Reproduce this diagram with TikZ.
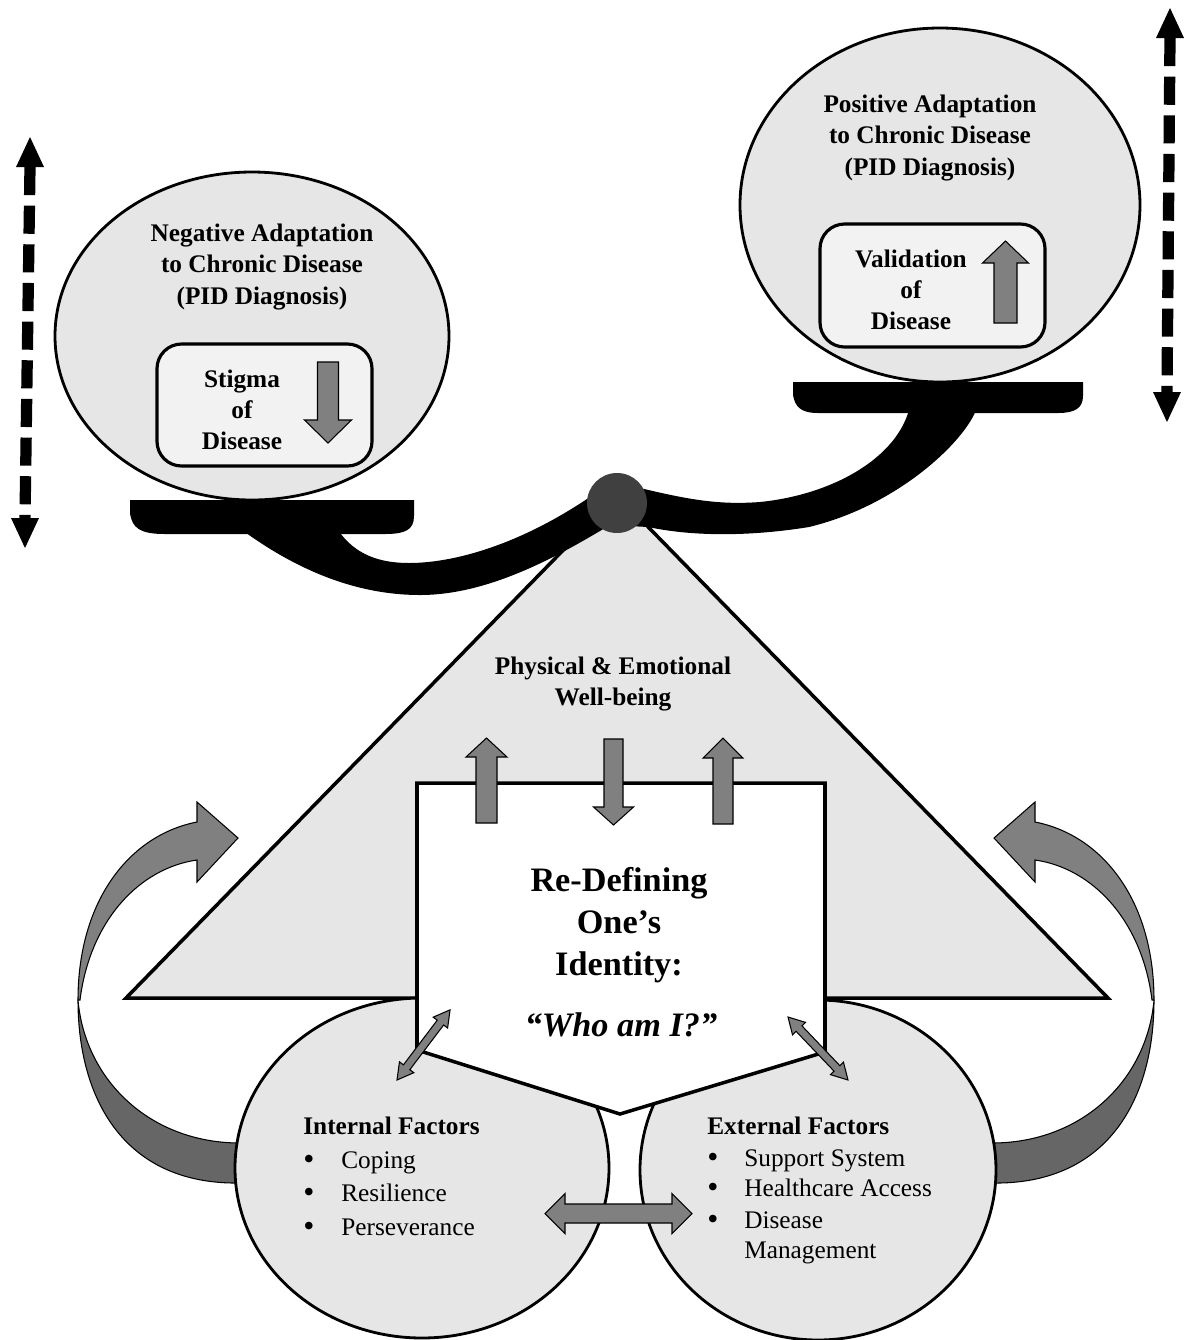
\documentclass[tikz,border=0pt]{standalone}
\usepackage{fontspec}
\setmainfont{Liberation Serif}
\definecolor{lgray}{HTML}{E6E6E6}
\definecolor{boxgray}{HTML}{F2F2F2}
\definecolor{agray}{HTML}{808080}
\definecolor{dgray}{HTML}{666666}
\definecolor{pivotc}{HTML}{404040}
\tikzset{
  blk/.style={fill=agray, draw=black, line width=0.6pt, line join=miter},
  bubble/.style={fill=lgray, draw=black, line width=1.6pt},
  rbox/.style={fill=boxgray, draw=black, line width=1.8pt, rounded corners=14},
  title/.style={font=\bfseries\fontsize{14.4}{17.8}\selectfont, align=center, inner sep=0pt},
  bigtitle/.style={font=\bfseries\fontsize{19.5}{24}\selectfont, align=center, inner sep=0pt},
  listtxt/.style={font=\fontsize{14.4}{17.6}\selectfont, anchor=base west, inner sep=0pt},
  bul/.style={font=\fontsize{18}{18}\selectfont, anchor=base west, inner sep=0pt, text height=8pt, text depth=0pt},
  dashline/.style={line width=6.4pt, dash pattern=on 16pt off 6pt},
  twistlow/.style={fill=dgray, draw=black, line width=0.6pt},
  twistup/.style={fill=agray, draw=black, line width=0.6pt, line join=miter}
}
% block arrow: tail x, tail y, angle, length, shaft half width, head half width, head length
\newcommand\myarrow[7]{\begin{scope}[shift={(#1,#2)},rotate=#3]
  \draw[blk] (0,-#5) -- ({#4-#7},-#5) -- ({#4-#7},-#6) -- (#4,0) -- ({#4-#7},#6) -- ({#4-#7},#5) -- (0,#5) -- cycle;
\end{scope}}
% double block arrow
\newcommand\mydarrow[7]{\begin{scope}[shift={(#1,#2)},rotate=#3]
  \draw[blk] (0,0) -- (#7,-#6) -- (#7,-#5) -- ({#4-#7},-#5) -- ({#4-#7},-#6) -- (#4,0) -- ({#4-#7},#6) -- ({#4-#7},#5) -- (#7,#5) -- (#7,#6) -- cycle;
\end{scope}}
% curved twisted side arrow (left version)
\newcommand\sidearrow{%
  \draw[twistlow] (262,1183) -- (240,1183) .. controls (125,1185) and (78,1100) .. (78,1000)
     .. controls (85,1080) and (150,1143) .. (240,1143) -- (262,1143) -- cycle;
  \draw[twistup] (78,1000) .. controls (78,900) and (130,835) .. (197,822) -- (197,802) -- (238,838)
     -- (197,882) -- (197,860) .. controls (140,868) and (90,920) .. (80,1000) -- cycle;
}
\begin{document}
\begin{tikzpicture}[x=0.02cm, y=-0.02cm]
\path[use as bounding box, fill=white] (0,0) rectangle (1187,1340);

% dashed vertical arrows
\coordinate (lt) at (30,137); \coordinate (lb) at (25,548);
\draw[dashline] (30,167) -- (25,518);
\fill (lt) -- (44,167) -- (16,167) -- cycle;
\fill (lb) -- (11,518) -- (39,518) -- cycle;
\coordinate (rt) at (1170,8); \coordinate (rb) at (1167,422);
\draw[dashline] (1170,38) -- (1167,392);
\fill (rt) -- (1184,38) -- (1156,38) -- cycle;
\fill (rb) -- (1153,392) -- (1181,392) -- cycle;

% top bubbles
\draw[bubble] (252,336) ellipse [x radius=197, y radius=164];
\draw[bubble] (940,205) ellipse [x radius=200, y radius=177];
\draw[rbox] (157,344) rectangle (372,466);
\draw[rbox] (820,224) rectangle (1045,347);
\myarrow{328}{362}{-90}{81}{10.5}{23.5}{23}
\myarrow{1005.5}{323}{90}{82}{11.5}{23}{22}

\node[title] (negt) at (262,267) {Negative Adaptation\\to Chronic Disease\\(PID Diagnosis)};
\node[title] (stigt) at (242,410) {Stigma\\of\\Disease};
\node[title] (post) at (930,138) {Positive Adaptation\\to Chronic Disease\\(PID Diagnosis)};
\node[title] (valt) at (911,290) {Validation\\of\\Disease};

% platforms
\fill (130,500) -- (414,500) -- (414,516) .. controls (414,530) and (405,534) .. (385,534)
  -- (165,534) .. controls (140,534) and (132,528) .. (130,513) -- cycle;
\fill (793,382) -- (1083,382) -- (1083,396) .. controls (1083,408) and (1075,413) .. (1058,413)
  -- (818,413) .. controls (800,413) and (795,406) .. (793,395) -- cycle;

% curved side arrows
\sidearrow
\begin{scope}[shift={(1232,0)},xscale=-1]
\sidearrow
\end{scope}

% triangle
\draw[fill=lgray, line width=2pt, line join=miter] (617,495) -- (1108,998) -- (126,998) -- cycle;

% beam
\fill (242,530) -- (338,530)
  .. controls (355,555) and (380,563) .. (409,563)
  .. controls (460,563) and (530,540) .. (600,490)
  -- (640,488)
  .. controls (690,500) and (720,505) .. (760,502)
  .. controls (830,495) and (895,460) .. (909,410)
  -- (976,410)
  .. controls (965,440) and (900,505) .. (809,527)
  .. controls (760,535) and (700,538) .. (648,527)
  -- (610,525)
  .. controls (560,555) and (490,595) .. (420,595)
  .. controls (350,595) and (290,565) .. (242,530) -- cycle;
\fill[pivotc] (617,503) circle [radius=30];

% bottom bubbles
\draw[bubble] (422,1168) ellipse [x radius=187, y radius=170];
\draw[bubble] (818,1170) ellipse [x radius=178, y radius=170];

% identity pentagon
\draw[fill=white, line width=2pt, line join=miter] (417,783) -- (825,783) -- (825,1052) -- (620,1114) -- (417,1050) -- cycle;

% arrows at top of pentagon
\myarrow{486.5}{823}{90}{85}{10.5}{20.5}{19}
\myarrow{613.5}{739}{-90}{86}{9.5}{20}{18}
\myarrow{723}{824}{90}{86}{10}{20}{20}

% double arrows
\mydarrow{397}{1080}{52.9}{88}{4}{9}{16}
\mydarrow{788}{1017}{-46.4}{87}{4}{9}{16}
\mydarrow{545}{1213.5}{0}{147}{9.5}{20}{20}

% texts
\node[title] (phys) at (613,684) {Physical \& Emotional\\Well-being};
\node[bigtitle] (redef) at (619,925) {Re-Defining\\One’s\\Identity:};
\node[bigtitle, font=\bfseries\itshape\fontsize{19.5}{24}\selectfont] (who) at (621,1025) {“Who am I?”};

\node[listtxt] (inth) at (303,1134) {\textbf{Internal Factors}};
\node[bul] (ib1) at (303,1169) {•};
\node[listtxt] (i1) at (341,1168) {Coping};
\node[bul] (ib2) at (303,1202) {•};
\node[listtxt] (i2) at (341,1201) {Resilience};
\node[bul] (ib3) at (303,1236) {•};
\node[listtxt] (i3) at (341,1235) {Perseverance};

\node[listtxt] (exth) at (707,1134) {\textbf{External Factors}};
\node[bul] (eb1) at (707,1167) {•};
\node[listtxt] (e1) at (744,1166) {Support System};
\node[bul] (eb2) at (707,1197) {•};
\node[listtxt] (e2) at (744,1196) {Healthcare Access};
\node[bul] (eb3) at (707,1229) {•};
\node[listtxt] (e3) at (744,1228) {Disease};
\node[listtxt] (e4) at (744,1258) {Management};
\end{tikzpicture}
\end{document}
